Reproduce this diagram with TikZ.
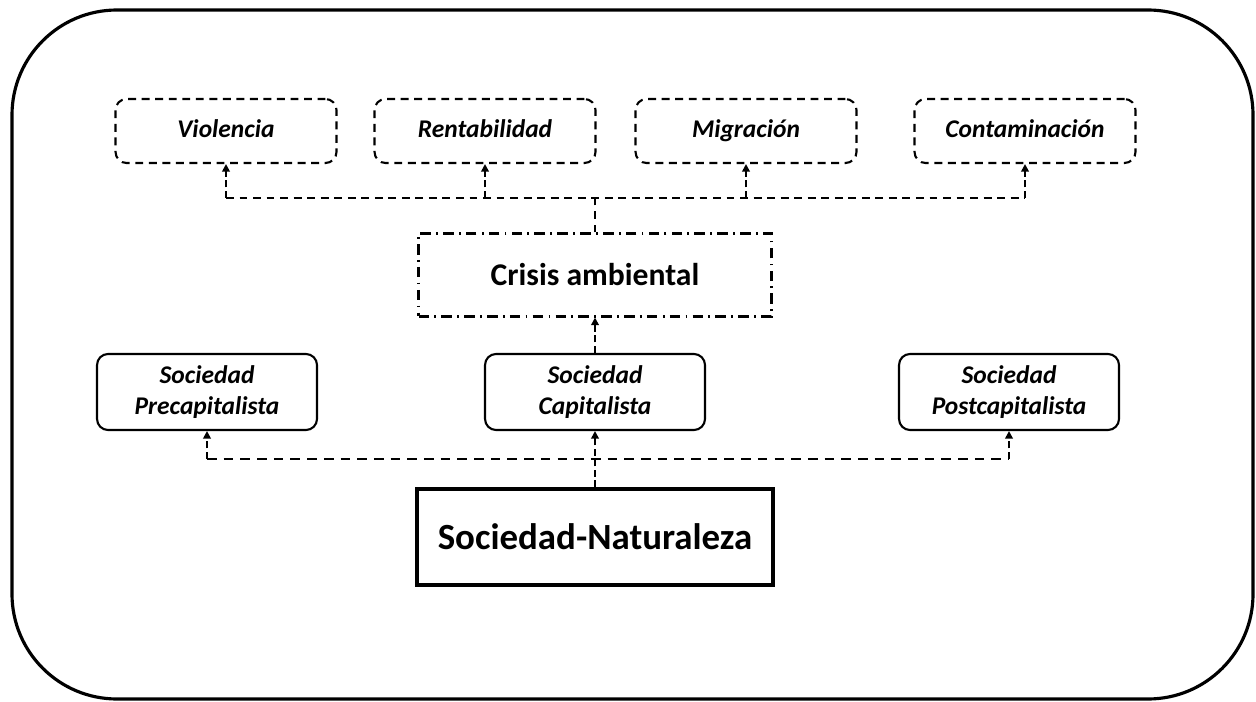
\documentclass[tikz,border=0pt]{standalone}
\usepackage{fontspec}
\setmainfont{Carlito}
\usepackage{tikz}
\usetikzlibrary{arrows.meta, positioning, calc}

\begin{document}
\begin{tikzpicture}[x=0.02cm, y=-0.02cm,
    frame/.style={line width=1.8pt, rounded corners=2.1cm},
    effect/.style={rectangle, draw, dash pattern=on 4.5pt off 3.2pt, line width=1.2pt, rounded corners=0.22cm,
        minimum width=4.42cm, minimum height=1.28cm, text height=2ex, text depth=0.5ex,
        font=\fontsize{14.5}{17}\selectfont\bfseries\itshape},
    crisisbox/.style={rectangle, draw, dash pattern=on 6pt off 3pt on 1pt off 3pt, line width=1.2pt,
        minimum width=7.06cm, minimum height=1.66cm, font=\fontsize{18}{21}\selectfont\bfseries},
    society/.style={rectangle, draw, line width=1.2pt, rounded corners=0.22cm, align=center,
        minimum width=4.4cm, minimum height=1.52cm, font=\fontsize{14.5}{18}\selectfont\bfseries\itshape},
    basebox/.style={rectangle, draw, line width=1.8pt,
        minimum width=7.12cm, minimum height=1.92cm, font=\fontsize{21}{24}\selectfont\bfseries},
    thinbus/.style={dash pattern=on 4.5pt off 3.2pt, line width=1.2pt},
    thickbus/.style={dash pattern=on 5.5pt off 4pt, line width=1.6pt},
    arrow/.style={-{Triangle[length=1.5mm, width=1.5mm]}, dash pattern=on 4pt off 2pt, line width=1.2pt}]

    \useasboundingbox (0,0) rectangle (1256,702);

    % outer frame
    \draw[frame] (12,10) rectangle (1253,699);

    % effects of the crisis
    \node[effect] (viol) at (226,131) {Violencia};
    \node[effect] (renta) at (485,131) {Rentabilidad};
    \node[effect] (migra) at (746,131) {Migración};
    \node[effect] (conta) at (1025,131) {Contaminación};

    % crisis
    \node[crisisbox] (crisis) at (595,275) {Crisis ambiental};

    % societies
    \node[society] (precap) at (207,392) {Sociedad\\Precapitalista};
    \node[society] (capit) at (595,392) {Sociedad\\Capitalista};
    \node[society] (postcap) at (1009,392) {Sociedad\\Postcapitalista};

    % base
    \node[basebox] (base) at (595,537) {Sociedad-Naturaleza};

    % upper bus
    \coordinate (topbus) at (0,198);
    \draw[thinbus] (crisis.north) -- (crisis.north |- topbus);
    \draw[thinbus] (viol.south |- topbus) -- (conta.south |- topbus);
    \foreach \n in {viol, renta, migra, conta}
        \draw[arrow] (\n.south |- topbus) -- (\n.south);

    % capitalist society to crisis
    \draw[arrow] (capit.north) -- (crisis.south);

    % lower bus
    \coordinate (lowbus) at (0,459);
    \draw[thickbus] (precap.south |- lowbus) -- (postcap.south |- lowbus);
    \draw[arrow] (base.north) -- (capit.south);
    \foreach \n in {precap, postcap}
        \draw[arrow] (\n.south |- lowbus) -- (\n.south);

\end{tikzpicture}
\end{document}
